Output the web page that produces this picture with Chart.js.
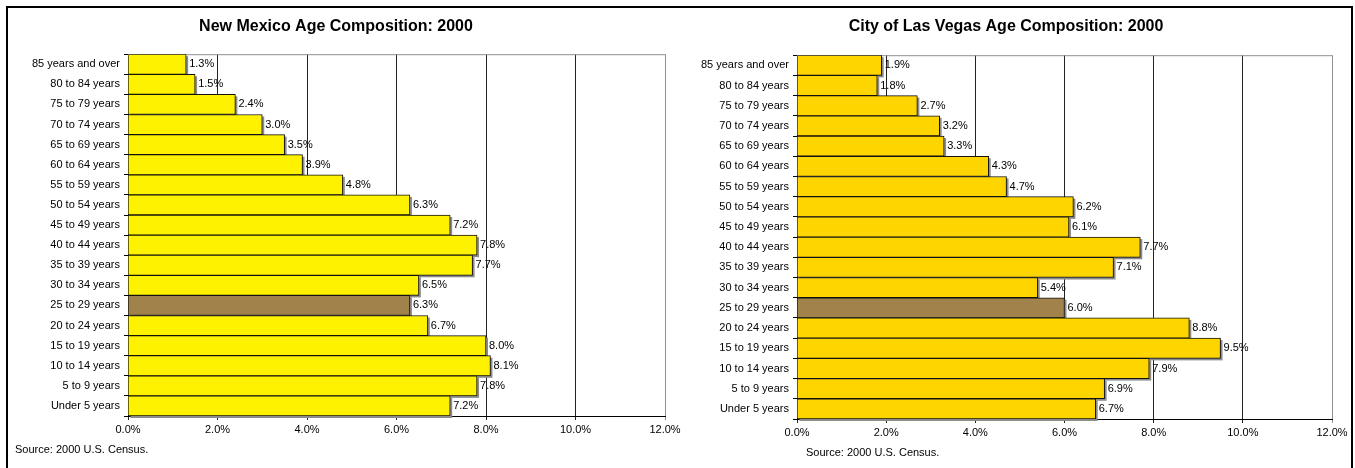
<!DOCTYPE html>
<html>
<head>
<meta charset="utf-8">
<script src="https://cdn.jsdelivr.net/npm/chart.js@4"></script>
<style>
  body { margin: 0; background: #fff; width: 1355px; height: 468px; overflow: hidden; position: relative; font-family: "Liberation Sans", Arial, sans-serif; }
  #frame { position: absolute; left: 6px; top: 6px; width: 1343px; height: 480px; border: 2px solid #000; }
  canvas { position: absolute; top: 7px; }
  #nm { left: 7px; }
  #lv { left: 680px; }
  .src { position: absolute; font-size: 11px; color: #000; line-height: 13px; }
</style>
</head>
<body>
<div id="frame"></div>
<canvas id="nm" width="690" height="461"></canvas>
<canvas id="lv" width="672" height="461"></canvas>
<div class="src" style="left:15px; top:443px;">Source: 2000 U.S. Census.</div>
<div class="src" style="left:806px; top:446px;">Source: 2000 U.S. Census.</div>
<script>
var ageGroups = ['85 years and over', '80 to 84 years', '75 to 79 years', '70 to 74 years',
  '65 to 69 years', '60 to 64 years', '55 to 59 years', '50 to 54 years', '45 to 49 years',
  '40 to 44 years', '35 to 39 years', '30 to 34 years', '25 to 29 years', '20 to 24 years',
  '15 to 19 years', '10 to 14 years', '5 to 9 years', 'Under 5 years']
var newMexico = [1.3, 1.5, 2.4, 3.0, 3.5, 3.9, 4.8, 6.3, 7.2, 7.8, 7.7, 6.5, 6.3, 6.7, 8.0, 8.1, 7.8, 7.2]
var lasVegas = [1.9, 1.8, 2.7, 3.2, 3.3, 4.3, 4.7, 6.2, 6.1, 7.7, 7.1, 5.4, 6.0, 8.8, 9.5, 7.9, 6.9, 6.7]
var xTicks = [0, 2, 4, 6, 8, 10, 12]

Chart.defaults.font.family = '"Liberation Sans", Arial, sans-serif'
Chart.defaults.font.size = 11
Chart.defaults.color = '#000'

// gray drop shadow behind the bars, value labels after them
var barDecor = {
  id: 'barDecor',
  beforeDatasetsDraw(chart) {
    var ctx = chart.ctx, a = chart.chartArea
    ctx.save()
    ctx.strokeStyle = '#909090'
    ctx.lineWidth = 1
    ctx.beginPath()
    ctx.moveTo(a.left, a.top + 0.5)
    ctx.lineTo(a.right, a.top + 0.5)
    ctx.stroke()
    ctx.fillStyle = '#8c8c8c'
    chart.getDatasetMeta(0).data.forEach(function (bar) {
      var top = bar.y - bar.height / 2
      ctx.fillRect(bar.base + 2, top + 2, bar.x - bar.base, bar.height)
    })
    ctx.restore()
  },
  afterDatasetsDraw(chart) {
    var ctx = chart.ctx
    var meta = chart.getDatasetMeta(0)
    var vals = chart.data.datasets[0].data
    ctx.save()
    ctx.font = '11px "Liberation Sans", Arial, sans-serif'
    ctx.fillStyle = '#000'
    ctx.textBaseline = 'middle'
    meta.data.forEach(function (bar, i) {
      ctx.fillText(vals[i].toFixed(1) + '%', bar.x + 3, bar.y)
    })
    ctx.restore()
  }
}

function makeChart(id, title, values, fill, yWidth, padRight, padBottom, titleBottom) {
  var colors = ageGroups.map(function (g) { return g === '25 to 29 years' ? '#A0824A' : fill })
  return new Chart(document.getElementById(id), {
    type: 'bar',
    data: {
      labels: ageGroups,
      datasets: [{
        data: values,
        backgroundColor: colors,
        borderColor: '#111',
        borderWidth: 1,
        barPercentage: 1,
        categoryPercentage: 1
      }]
    },
    options: {
      indexAxis: 'y',
      responsive: false,
      animation: false,
      layout: { padding: { left: 0, right: padRight, top: 0, bottom: padBottom } },
      plugins: {
        legend: { display: false },
        tooltip: { enabled: false },
        title: {
          display: true,
          text: title,
          color: '#000',
          font: { size: 16, weight: 'bold' },
          padding: { top: 10, bottom: titleBottom }
        }
      },
      scales: {
        x: {
          min: 0,
          max: 12,
          afterBuildTicks: function (s) { s.ticks = xTicks.map(function (v) { return { value: v } }) },
          afterFit: function (s) { s.height = 24 },
          ticks: { padding: 3, callback: function (v) { return v.toFixed(1) + '%' } },
          grid: {
            color: function (c) { return c.tick && c.tick.value === 12 ? '#909090' : '#222' },
            tickLength: 4
          },
          border: { display: true, color: '#000', width: 1 }
        },
        y: {
          afterFit: function (s) { s.width = yWidth },
          ticks: { padding: 4, autoSkip: false },
          grid: { drawOnChartArea: false, tickLength: 4, color: '#000', offset: true },
          border: { display: true, color: '#000', width: 1 }
        }
      }
    },
    plugins: [barDecor]
  })
}

makeChart('nm', 'New Mexico Age Composition: 2000', newMexico, '#FFF200', 121, 32, 28, 18)
makeChart('lv', 'City of Las Vegas Age Composition: 2000', lasVegas, '#FFD500', 117, 20, 25, 19)
</script>
</body>
</html>
